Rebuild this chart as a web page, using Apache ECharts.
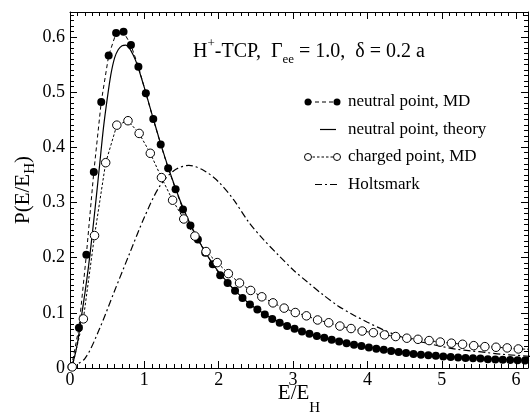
<!DOCTYPE html>
<html><head><meta charset="utf-8">
<script src="https://cdn.jsdelivr.net/npm/echarts@6/dist/echarts.min.js"></script>
<style>html,body{margin:0;padding:0;background:#fff}#c{width:530px;height:414px}</style>
</head><body><div id="c"></div>
<script>
const xTickLabels = [0, 1, 2, 3, 4, 5, 6];
const yTickLabels = [0, 0.1, 0.2, 0.3, 0.4, 0.5, 0.6];

const neutralMD_x = [0.02,0.12,0.22,0.32,0.42,0.52,0.62,0.72,0.82,0.92,
  1.02,1.12,1.22,1.32,1.42,1.52,1.62,1.72,1.82,1.92,
  2.02,2.12,2.22,2.32,2.42,2.52,2.62,2.72,2.82,2.92,
  3.02,3.12,3.22,3.32,3.42,3.52,3.62,3.72,3.82,3.92,
  4.02,4.12,4.22,4.32,4.42,4.52,4.62,4.72,4.82,4.92,
  5.02,5.12,5.22,5.32,5.42,5.52,5.62,5.72,5.82,5.92,
  6.02,6.12];
const neutralMD_y = [0.002,0.073,0.205,0.355,0.482,0.566,0.607,0.609,0.585,0.546,
  0.498,0.451,0.405,0.362,0.324,0.287,0.258,0.233,0.209,0.188,
  0.168,0.154,0.140,0.127,0.115,0.106,0.097,0.089,0.082,0.076,
  0.071,0.066,0.062,0.058,0.055,0.051,0.048,0.045,0.042,0.040,
  0.037,0.035,0.033,0.031,0.029,0.027,0.0255,0.024,0.023,0.022,
  0.021,0.020,0.019,0.018,0.0175,0.017,0.016,0.0155,0.015,0.0145,
  0.014,0.0135];

const theory_x = [0,0.05,0.1,0.15,0.2,0.25,0.3,0.35,0.4,0.45,0.5,0.55,0.6,0.65,0.7,0.75,0.8,0.85,0.9,0.95,
  1.0,1.1,1.2,1.3,1.4,1.5,1.6,1.7,1.8,1.9,2.0,2.2,2.4,2.6,2.8,3.0,3.25,3.5,3.75,4.0,4.5,5.0,5.5,6.0,6.16];
const theory_y = [0,0.015,0.045,0.09,0.135,0.185,0.243,0.305,0.37,0.435,0.487,0.532,0.562,0.577,0.584,0.585,0.579,0.567,0.551,0.53,
  0.508,0.461,0.415,0.372,0.333,0.297,0.266,0.239,0.214,0.193,0.174,0.143,0.118,0.099,0.084,0.072,0.061,0.052,0.045,0.038,0.029,0.022,0.018,0.0145,0.0135];

const chargedMD_x = [0.03,0.18,0.33,0.48,0.63,0.78,0.93,1.08,1.23,1.38,1.53,1.68,1.83,1.98,2.13,2.28,2.43,2.58,2.73,2.88,
  3.03,3.18,3.33,3.48,3.63,3.78,3.93,4.08,4.23,4.38,4.53,4.68,4.83,4.98,5.13,5.28,5.43,5.58,5.73,5.88,6.03,6.18];
const chargedMD_y = [0.002,0.089,0.240,0.372,0.440,0.448,0.425,0.389,0.345,0.304,0.270,0.239,0.211,0.191,0.171,0.154,0.1405,0.129,0.118,0.1085,
  0.1005,0.0945,0.087,0.082,0.076,0.0715,0.067,0.064,0.060,0.057,0.054,0.052,0.0497,0.047,0.045,0.043,0.0405,0.0387,0.0376,0.0364,0.0345,0.034];

const holtsmark_x = [0,0.2,0.4,0.6,0.8,1.0,1.2,1.4,1.6,1.8,2.0,2.2,2.4,2.6,2.8,3.0,3.2,3.4,3.6,3.8,4.0,4.2,4.4,4.6,4.8,5.0,5.2,5.4,5.6,5.8,6.0,6.2];
const holtsmark_y = [0,0.017,0.072,0.14,0.207,0.273,0.328,0.358,0.367,0.358,0.337,0.305,0.265,0.233,0.205,0.178,0.155,0.133,0.113,0.097,0.083,0.07,0.059,0.051,0.045,0.039,0.034,0.031,0.028,0.025,0.023,0.021];

const legendNames = ['neutral point, MD', 'neutral point, theory', 'charged point, MD', 'Holtsmark'];

const X_MIN = 0, X_MAX = 6.16, Y_MIN = 0, Y_MAX = 0.645;
const FONT = "'Liberation Serif','Times New Roman',serif";
const BLACK = '#000';

function zip(xs, ys) { return xs.map((x, i) => [x, ys[i]]); }

function xAx(pos, interval, len, withLabel, withLine) {
  const a = {
    type: 'value', position: pos, min: X_MIN, max: X_MAX, interval: interval,
    axisLine: { show: withLine, onZero: false, lineStyle: { color: BLACK, width: 1 } },
    axisTick: { show: true, inside: true, length: len, lineStyle: { color: BLACK, width: 1 } },
    axisLabel: { show: withLabel }, splitLine: { show: false }
  };
  if (withLabel) {
    a.axisLabel = { show: true, margin: 3, color: BLACK, fontFamily: FONT, fontSize: 18,
      formatter: v => (xTickLabels.some(t => Math.abs(t - v) < 1e-9) ? String(Math.round(v)) : '') };
    a.name = '{m|E/E}{s|H}';
    a.nameLocation = 'middle';
    a.nameGap = 3;
    a.nameMoveOverlap = false;
    a.nameTextStyle = { color: BLACK, fontFamily: FONT, rich: {
      m: { fontSize: 21, fontFamily: FONT, color: BLACK },
      s: { fontSize: 15, fontFamily: FONT, color: BLACK, padding: [30, 0, 0, 0] } } };
  }
  return a;
}
function yAx(pos, interval, len, withLabel, withLine) {
  const a = {
    type: 'value', position: pos, min: Y_MIN, max: Y_MAX, interval: interval,
    axisLine: { show: withLine, onZero: false, lineStyle: { color: BLACK, width: 1 } },
    axisTick: { show: true, inside: true, length: len, lineStyle: { color: BLACK, width: 1 } },
    axisLabel: { show: withLabel }, splitLine: { show: false }
  };
  if (withLabel) {
    a.axisLabel = { show: true, margin: 5, color: BLACK, fontFamily: FONT, fontSize: 18,
      formatter: v => { const t = yTickLabels.find(t => Math.abs(t - v) < 1e-9); return t === undefined ? '' : (t === 0 ? '0' : t.toFixed(1)); } };
    a.name = '{m|P(E/E}{s|H}{m|)}';
    a.nameLocation = 'middle';
    a.nameRotate = 90;
    a.nameGap = 32;
    a.nameMoveOverlap = false;
    a.nameTextStyle = { color: BLACK, fontFamily: FONT, rich: {
      m: { fontSize: 21, fontFamily: FONT, color: BLACK },
      s: { fontSize: 15, fontFamily: FONT, color: BLACK, padding: [14, 0, 0, 0] } } };
  }
  return a;
}

const chart = echarts.init(document.getElementById('c'), null, { renderer: 'canvas' });

const LX0 = 308, LX1 = 337, LTX = 348, LY0 = 102, LDY = 27.5;
const legendGraphics = [];
legendGraphics.push({ type: 'line', shape: { x1: LX0, y1: LY0, x2: LX1, y2: LY0 }, style: { stroke: BLACK, lineWidth: 1, lineDash: [4, 3] } });
legendGraphics.push({ type: 'circle', shape: { cx: LX0, cy: LY0, r: 3.5 }, style: { fill: BLACK } });
legendGraphics.push({ type: 'circle', shape: { cx: LX1, cy: LY0, r: 3.5 }, style: { fill: BLACK } });
legendGraphics.push({ type: 'line', shape: { x1: 320, y1: LY0 + LDY, x2: 336, y2: LY0 + LDY }, style: { stroke: BLACK, lineWidth: 1.2 } });
legendGraphics.push({ type: 'line', shape: { x1: LX0, y1: LY0 + 2 * LDY, x2: LX1, y2: LY0 + 2 * LDY }, style: { stroke: BLACK, lineWidth: 1, lineDash: [2.5, 2] } });
legendGraphics.push({ type: 'circle', shape: { cx: LX0, cy: LY0 + 2 * LDY, r: 3.5 }, style: { fill: '#fff', stroke: BLACK, lineWidth: 1 } });
legendGraphics.push({ type: 'circle', shape: { cx: LX1, cy: LY0 + 2 * LDY, r: 3.5 }, style: { fill: '#fff', stroke: BLACK, lineWidth: 1 } });
legendGraphics.push({ type: 'line', shape: { x1: 315, y1: LY0 + 3 * LDY, x2: 338, y2: LY0 + 3 * LDY }, style: { stroke: BLACK, lineWidth: 1.2, lineDash: [7, 3, 2, 3] } });
legendNames.forEach((n, i) => {
  legendGraphics.push({ type: 'text', x: LTX, y: LY0 + i * LDY, style: { text: n, fill: BLACK, font: '17px ' + FONT, verticalAlign: 'middle', align: 'left' } });
});
legendGraphics.push({ type: 'text', x: 193, y: 52, style: {
  text: '{m|H}{sp|+}{m|-TCP,  Γ}{sb|ee}{m| = 1.0,  δ = 0.2 a}',
  fill: BLACK, verticalAlign: 'middle', align: 'left', font: '20px ' + FONT,
  rich: {
    m: { fontSize: 20, fontFamily: FONT, fill: BLACK },
    sp: { fontSize: 13, fontFamily: FONT, fill: BLACK, padding: [0, 0, 16, 0] },
    sb: { fontSize: 13, fontFamily: FONT, fill: BLACK, padding: [16, 0, 0, 0] }
  } } });

chart.setOption({
  animation: false,
  backgroundColor: '#fff',
  grid: { left: 70, right: 2, top: 12, bottom: 46, containLabel: false, outerBoundsMode: 'none' },
  xAxis: [xAx('bottom', 1, 7, true, true), xAx('bottom', 0.1, 4, false, false), xAx('top', 1, 7, false, true), xAx('top', 0.1, 4, false, false)],
  yAxis: [yAx('left', 0.1, 7, true, true), yAx('left', 0.01, 4, false, false), yAx('right', 0.1, 7, false, true), yAx('right', 0.01, 4, false, false)],
  series: [
    { name: legendNames[0], type: 'line', xAxisIndex: 0, yAxisIndex: 0, data: zip(neutralMD_x, neutralMD_y),
      symbol: 'circle', symbolSize: 8, showAllSymbol: true, itemStyle: { color: BLACK, borderWidth: 0 },
      lineStyle: { color: BLACK, width: 1, type: [4, 3] }, z: 3 },
    { name: legendNames[1], type: 'line', xAxisIndex: 0, yAxisIndex: 0, data: zip(theory_x, theory_y),
      symbol: 'none', smooth: 0.3, lineStyle: { color: BLACK, width: 1.2 }, z: 2 },
    { name: legendNames[2], type: 'line', xAxisIndex: 0, yAxisIndex: 0, data: zip(chargedMD_x, chargedMD_y),
      symbol: 'circle', symbolSize: 8.5, showAllSymbol: true, itemStyle: { color: '#fff', borderColor: BLACK, borderWidth: 1 },
      lineStyle: { color: BLACK, width: 1, type: [2.5, 2] }, z: 4 },
    { name: legendNames[3], type: 'line', xAxisIndex: 0, yAxisIndex: 0, data: zip(holtsmark_x, holtsmark_y),
      symbol: 'none', smooth: 0.3, lineStyle: { color: BLACK, width: 1.2, type: [7, 3, 2, 3] }, z: 1 }
  ],
  graphic: legendGraphics
});
</script>
</body></html>
